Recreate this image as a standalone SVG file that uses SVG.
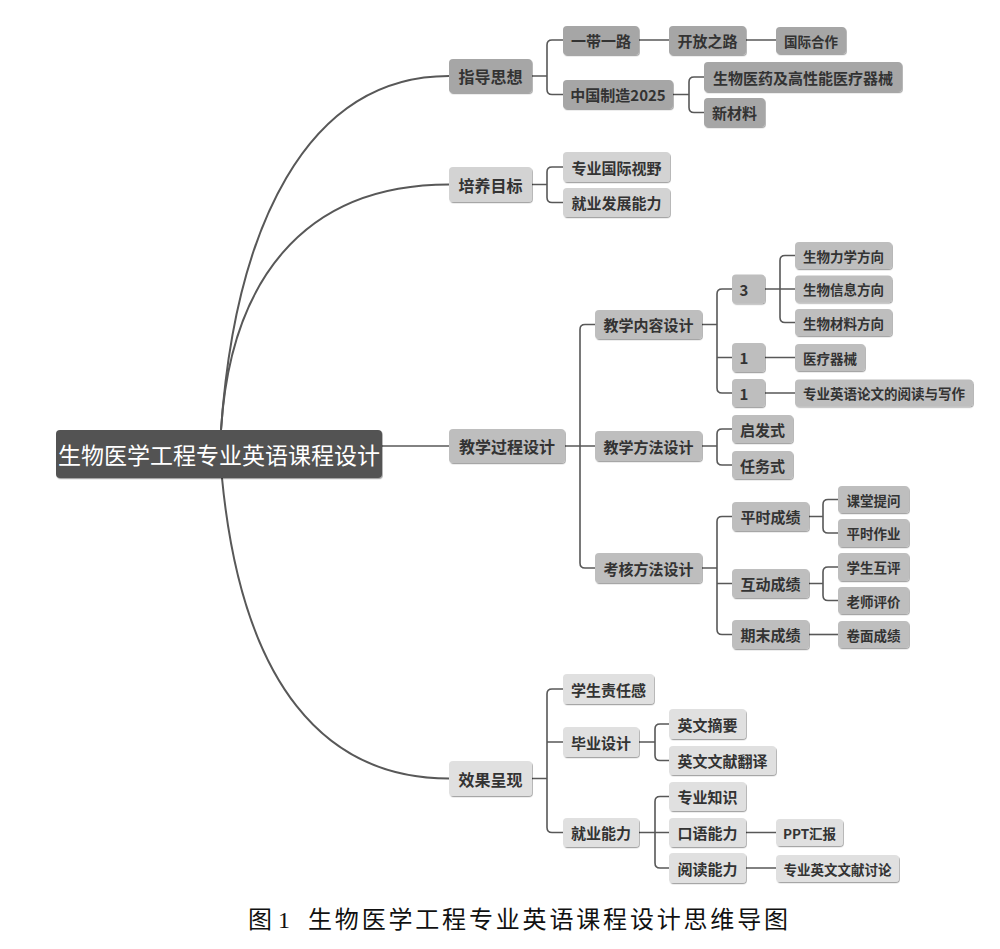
<svg xmlns="http://www.w3.org/2000/svg" width="1000" height="949" viewBox="0 0 1000 949">
<defs>
<filter id="sh" x="-10%" y="-20%" width="120%" height="150%">
<feDropShadow dx="0.8" dy="1.2" stdDeviation="0.7" flood-color="#000" flood-opacity="0.35"/>
</filter>
</defs>
<style>
.n rect{filter:url(#sh)}
.a rect{fill:#a6a6a6}
.b rect{fill:#d3d3d3}
.c rect{fill:#bebebe}
.d rect{fill:#e0e0e0}
.n text{font-family:"Noto Sans CJK SC","Noto Sans",sans-serif;font-weight:bold;font-size:15px;fill:#333;text-anchor:middle;dominant-baseline:central}
.n text.s{font-size:13.5px}
.n text.l{font-size:16px}
#conn path{fill:none;stroke:#585858;stroke-width:1.6}
#conn path.cv{stroke-width:2}
.cap{font-family:"Liberation Serif","Noto Sans CJK SC",serif;font-size:24px;fill:#111}
</style>
<rect width="1000" height="949" fill="#fff"/>
<g id="conn">
<path class="cv" d="M221,430 C235,230 305,76 449,76"/>
<path class="cv" d="M221,430 C230,285 300,184.5 449,184.5"/>
<path class="cv" d="M222,478 C242,685 325,778.5 449,778.5"/>
<path d="M382,446 H449"/>
<path d="M532,76 H547 M563,40 H552 Q547,40 547,45 V89.5 Q547,94.5 552,94.5 H563"/>
<path d="M639,40 H669 M746,40 H776"/>
<path d="M673,94.5 H689 M704,77 H694 Q689,77 689,82 V107.5 Q689,112.5 694,112.5 H704"/>
<path d="M532,184.5 H547 M563,167 H552 Q547,167 547,172 V197.5 Q547,202.5 552,202.5 H563"/>
<path d="M565,446 H595 M595,324.5 H585 Q580,324.5 580,329.5 V563 Q580,568 585,568 H595"/>
<path d="M702,324.5 H717 M732,289 H722 Q717,289 717,294 V388 Q717,393 722,393 H732 M717,357.5 H732"/>
<path d="M765,289 H795 M795,255.5 H785 Q780,255.5 780,260.5 V317.5 Q780,322.5 785,322.5 H795"/>
<path d="M765,357.5 H795 M765,393 H795"/>
<path d="M702,446 H717 M732,429 H722 Q717,429 717,434 V460 Q717,465 722,465 H732"/>
<path d="M702,568 H717 M732,516.5 H722 Q717,516.5 717,521.5 V629.5 Q717,634.5 722,634.5 H732 M717,583.5 H732"/>
<path d="M809,516.5 H823 M838,499.5 H828 Q823,499.5 823,504.5 V528 Q823,533 828,533 H838"/>
<path d="M809,583.5 H823 M838,567 H828 Q823,567 823,572 V595.5 Q823,600.5 828,600.5 H838"/>
<path d="M809,634.5 H838"/>
<path d="M532,778.5 H547 M563,689 H552 Q547,689 547,694 V827.5 Q547,832.5 552,832.5 H563 M547,742 H563"/>
<path d="M639,742 H655 M669,724 H660 Q655,724 655,729 V755.5 Q655,760.5 660,760.5 H669"/>
<path d="M639,832.5 H669 M669,796.5 H660 Q655,796.5 655,801.5 V863 Q655,868 660,868 H669"/>
<path d="M746,832.5 H776 M746,868 H776"/>
</g>

<g id="root">
<rect x="56" y="430" width="326" height="48" rx="4" fill="#525252" filter="url(#sh)"/>
<text x="219" y="454" style="font-family:'Noto Sans CJK SC','Noto Sans',sans-serif;font-size:23px;fill:#fff;text-anchor:middle;dominant-baseline:central">生物医学工程专业英语课程设计</text>
</g>

<g id="n-zhidao" class="n a"><rect x="449" y="59" width="83" height="34" rx="4"/><text class="l" x="490.5" y="76">指导思想</text></g>
<g id="n-ydyl" class="n a"><rect x="563" y="26" width="76" height="29" rx="4"/><text x="601" y="40.5">一带一路</text></g>
<g id="n-kfzl" class="n a"><rect x="669" y="26" width="77" height="29" rx="4"/><text x="707.5" y="40.5">开放之路</text></g>
<g id="n-gjhz" class="n a"><rect x="776" y="27" width="70" height="27" rx="4"/><text class="s" x="811" y="40.5">国际合作</text></g>
<g id="n-zgzz" class="n a"><rect x="563" y="80" width="110" height="29" rx="4"/><text x="618" y="94.5">中国制造2025</text></g>
<g id="n-swyy" class="n a"><rect x="704" y="62" width="198" height="30" rx="4"/><text x="803" y="77">生物医药及高性能医疗器械</text></g>
<g id="n-xcl" class="n a"><rect x="704" y="98" width="61" height="29" rx="4"/><text x="734.5" y="112.5">新材料</text></g>

<g id="n-pymb" class="n b"><rect x="449" y="167" width="83" height="35" rx="4"/><text class="l" x="490.5" y="184.5">培养目标</text></g>
<g id="n-zygj" class="n b"><rect x="563" y="152" width="107" height="30" rx="4"/><text x="616.5" y="167">专业国际视野</text></g>
<g id="n-jyfz" class="n b"><rect x="563" y="188" width="107" height="29" rx="4"/><text x="616.5" y="202.5">就业发展能力</text></g>

<g id="n-jxgc" class="n c"><rect x="449" y="429" width="116" height="34" rx="4"/><text class="l" x="507" y="446">教学过程设计</text></g>
<g id="n-jxnr" class="n c"><rect x="595" y="310" width="107" height="29" rx="4"/><text x="648.5" y="324.5">教学内容设计</text></g>
<g id="n-jxff" class="n c"><rect x="595" y="431" width="107" height="30" rx="4"/><text x="648.5" y="446">教学方法设计</text></g>
<g id="n-khff" class="n c"><rect x="595" y="553" width="107" height="30" rx="4"/><text x="648.5" y="568">考核方法设计</text></g>
<g id="n-3" class="n c"><rect x="732" y="274.5" width="33" height="29" rx="4"/><text x="744" y="289">3</text></g>
<g id="n-1a" class="n c"><rect x="732" y="343" width="33" height="29" rx="4"/><text x="744" y="357.5">1</text></g>
<g id="n-1b" class="n c"><rect x="732" y="379" width="33" height="28" rx="4"/><text x="744" y="393">1</text></g>
<g id="n-swlx" class="n c"><rect x="795" y="242" width="97" height="27" rx="4"/><text class="s" x="843.5" y="255.5">生物力学方向</text></g>
<g id="n-swxx" class="n c"><rect x="795" y="275.5" width="97" height="27" rx="4"/><text class="s" x="843.5" y="289">生物信息方向</text></g>
<g id="n-swcl" class="n c"><rect x="795" y="309" width="97" height="27" rx="4"/><text class="s" x="843.5" y="322.5">生物材料方向</text></g>
<g id="n-ylqx" class="n c"><rect x="795" y="344" width="70" height="27" rx="4"/><text class="s" x="830" y="357.5">医疗器械</text></g>
<g id="n-zyyy" class="n c"><rect x="795" y="379.5" width="178" height="27" rx="4"/><text class="s" x="884" y="393">专业英语论文的阅读与写作</text></g>
<g id="n-qfs" class="n c"><rect x="732" y="415" width="61" height="28" rx="4"/><text x="762.5" y="429">启发式</text></g>
<g id="n-rws" class="n c"><rect x="732" y="451" width="61" height="28" rx="4"/><text x="762.5" y="465">任务式</text></g>
<g id="n-pscj" class="n c"><rect x="732" y="502" width="77" height="29" rx="4"/><text x="770.5" y="516.5">平时成绩</text></g>
<g id="n-hdcj" class="n c"><rect x="732" y="569" width="77" height="29" rx="4"/><text x="770.5" y="583.5">互动成绩</text></g>
<g id="n-qmcj" class="n c"><rect x="732" y="620" width="77" height="29" rx="4"/><text x="770.5" y="634.5">期末成绩</text></g>
<g id="n-ktzw" class="n c"><rect x="838" y="486" width="71" height="27" rx="4"/><text class="s" x="873.5" y="499.5">课堂提问</text></g>
<g id="n-pszy" class="n c"><rect x="838" y="519" width="71" height="28" rx="4"/><text class="s" x="873.5" y="533">平时作业</text></g>
<g id="n-xshp" class="n c"><rect x="838" y="553" width="71" height="28" rx="4"/><text class="s" x="873.5" y="567">学生互评</text></g>
<g id="n-lspj" class="n c"><rect x="838" y="587" width="71" height="27" rx="4"/><text class="s" x="873.5" y="600.5">老师评价</text></g>
<g id="n-jmcj" class="n c"><rect x="838" y="621" width="71" height="27" rx="4"/><text class="s" x="873.5" y="634.5">卷面成绩</text></g>

<g id="n-xgcx" class="n d"><rect x="449" y="761" width="83" height="35" rx="4"/><text class="l" x="490.5" y="778.5">效果呈现</text></g>
<g id="n-xszr" class="n d"><rect x="563" y="674" width="91" height="30" rx="4"/><text x="608.5" y="689">学生责任感</text></g>
<g id="n-bysj" class="n d"><rect x="563" y="727" width="76" height="30" rx="4"/><text x="601" y="742">毕业设计</text></g>
<g id="n-jynl" class="n d"><rect x="563" y="818" width="76" height="29" rx="4"/><text x="601" y="832.5">就业能力</text></g>
<g id="n-ywzy" class="n d"><rect x="669" y="709" width="77" height="30" rx="4"/><text x="707.5" y="724">英文摘要</text></g>
<g id="n-ywwx" class="n d"><rect x="669" y="746" width="107" height="29" rx="4"/><text x="722.5" y="760.5">英文文献翻译</text></g>
<g id="n-zyzs" class="n d"><rect x="669" y="782" width="77" height="29" rx="4"/><text x="707.5" y="796.5">专业知识</text></g>
<g id="n-kynl" class="n d"><rect x="669" y="818" width="77" height="29" rx="4"/><text x="707.5" y="832.5">口语能力</text></g>
<g id="n-ydnl" class="n d"><rect x="669" y="853" width="77" height="30" rx="4"/><text x="707.5" y="868">阅读能力</text></g>
<g id="n-ppt" class="n d"><rect x="776" y="819" width="67" height="27" rx="4"/><text class="s" x="809.5" y="832.5">PPT汇报</text></g>
<g id="n-zyywtl" class="n d"><rect x="776" y="855" width="123" height="27" rx="4"/><text class="s" x="837.5" y="868.5">专业英文文献讨论</text></g>

<g id="caption">
<text class="cap" x="248" y="928">图</text>
<text class="cap" x="278" y="928">1</text>
<text class="cap" x="308" y="928" textLength="480" lengthAdjust="spacing">生物医学工程专业英语课程设计思维导图</text>
</g>
</svg>
